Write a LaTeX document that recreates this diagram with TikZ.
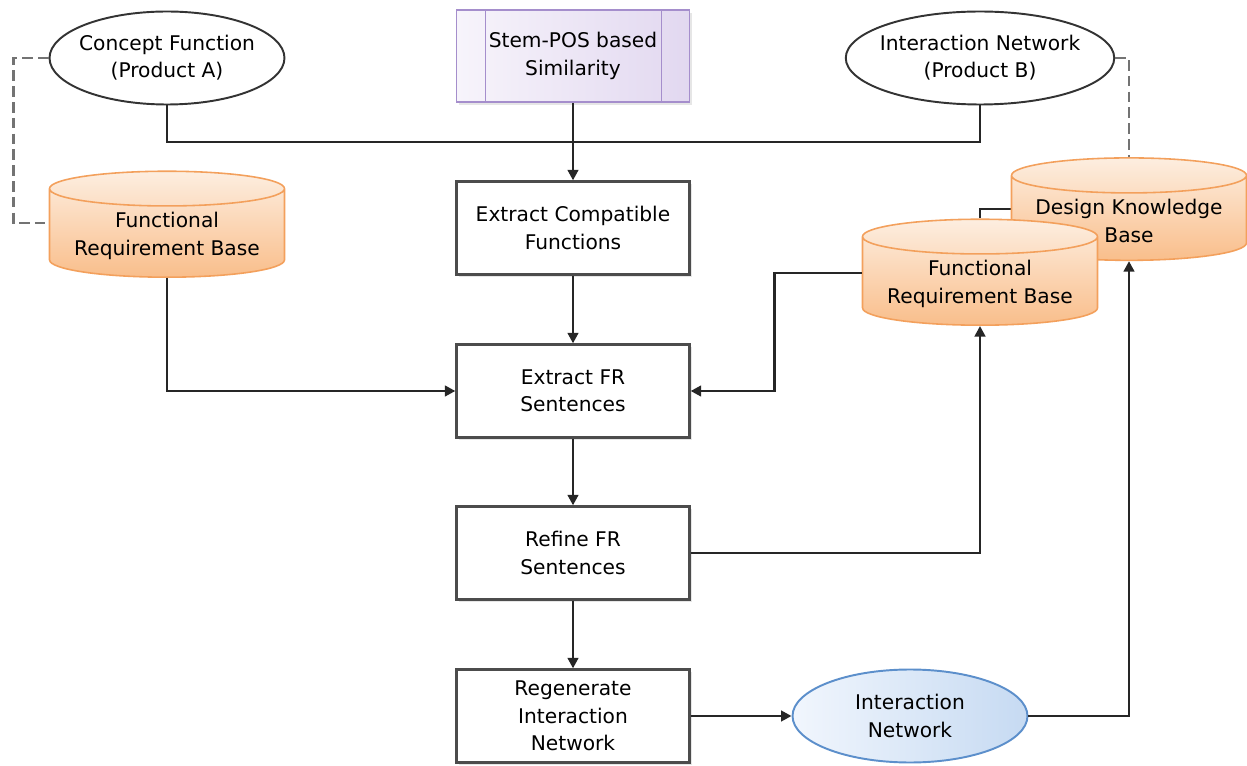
\documentclass[tikz,border=0pt]{standalone}
\usepackage{fontspec}
\setmainfont{DejaVu Sans}
\usetikzlibrary{shapes.geometric,arrows.meta,shadows,backgrounds}
\definecolor{cylline}{HTML}{F3A05C}
\definecolor{cyltop}{HTML}{FDEEE0}
\definecolor{cylbot}{HTML}{F9BE8B}
\definecolor{stemline}{HTML}{A58ECC}
\definecolor{stemleft}{HTML}{F7F4FB}
\definecolor{stemright}{HTML}{E2D8F0}
\definecolor{netline}{HTML}{5C8FCB}
\definecolor{netleft}{HTML}{F1F6FD}
\definecolor{netright}{HTML}{C6DAF2}
\tikzset{
  proc/.style={draw=black!70, line width=1.3pt, fill=white, minimum width=4.66cm,
    minimum height=1.86cm, align=center,
    drop shadow={opacity=0.2, shadow xshift=1.5pt, shadow yshift=-1.5pt}},
  oval/.style={ellipse, draw=black!80, line width=1.1pt, fill=white, minimum width=4.7cm,
    minimum height=1.86cm, align=center, inner xsep=-3pt, inner ysep=0pt},
  netoval/.style={oval, draw=netline, left color=netleft, right color=netright},
  store/.style={cylinder, shape border rotate=90, aspect=0.176, draw=cylline, line width=0.9pt,
    top color=cyltop, bottom color=cylbot, minimum width=4.7cm, minimum height=1.76cm,
    align=center},
  stembox/.style={draw=stemline, line width=1pt, left color=stemleft, right color=stemright,
    minimum width=4.66cm, minimum height=1.84cm, align=center, inner sep=0pt,
    drop shadow={opacity=0.2, shadow xshift=1.5pt, shadow yshift=-1.5pt}},
  link/.style={draw=black!85, line width=1.5pt},
  arrow/.style={link, -{Triangle[length=6pt,width=6pt]}},
  dashline/.style={draw=black!55, line width=1.3pt, dash pattern=on 6pt off 3pt}
}
\begin{document}
\begin{tikzpicture}[x=0.02cm, y=-0.02cm, font=\fontsize{11.5}{15.5}\selectfont]
  % FR extraction flow from product A to product B
  \useasboundingbox (0,0) rectangle (1247,766);
  \node[oval] (cfa) at (167,58) {Concept Function\\(Product A)};
  \node[stembox] (stem) at (573,56) {Stem-POS based\\Similarity};
  \draw[stemline, line width=0.8pt] ([xshift=0.6cm]stem.north west) -- ([xshift=0.6cm]stem.south west);
  \draw[stemline, line width=0.8pt] ([xshift=-0.58cm]stem.north east) -- ([xshift=-0.58cm]stem.south east);
  \node[oval] (inb) at (980,58) {Interaction Network\\(Product B)};
  \node[store] (frba) at (167,236) {Functional\\Requirement Base};
  \node[store] (dkb) at (1129,221) {Design Knowledge\\Base};
  \node[store] (frbb) at (980,284) {Functional\\Requirement Base};
  \begin{scope}[on background layer]
    \draw[link, line width=1.1pt] ([yshift=0.24cm]dkb.west) -| (frbb.north);
  \end{scope}
  \node[proc] (ecf) at (573,228) {Extract Compatible\\Functions};
  \node[proc] (efr) at (573,391) {Extract FR\\Sentences};
  \node[proc] (rfr) at (573,553) {Refine FR\\Sentences};
  \node[proc] (rin) at (573,716) {Regenerate\\Interaction\\Network};
  \node[netoval] (net) at (910,716) {Interaction\\Network};
  \coordinate (join) at (573,142);
  \draw[link] (cfa.south) |- (join) -| (inb.south);
  \draw[arrow] (stem.south) -- (ecf.north);
  \draw[arrow] (ecf) -- (efr);
  \draw[arrow] (frba.south) |- (efr.west);
  \draw[arrow] ([yshift=0.22cm]frbb.west) -- ++(-87,0) |- (efr.east);
  \draw[arrow] (efr) -- (rfr);
  \draw[arrow] (rfr.east) -| (frbb.south);
  \draw[arrow] (rfr) -- (rin);
  \draw[arrow] (rin) -- (net);
  \draw[arrow] (net.east) -| (dkb.south);
  \draw[dashline] (cfa.west) -- ++(-35,0) |- ([yshift=0.26cm]frba.west);
  \draw[dashline] (inb.east) -| (dkb.north);
\end{tikzpicture}
\end{document}
